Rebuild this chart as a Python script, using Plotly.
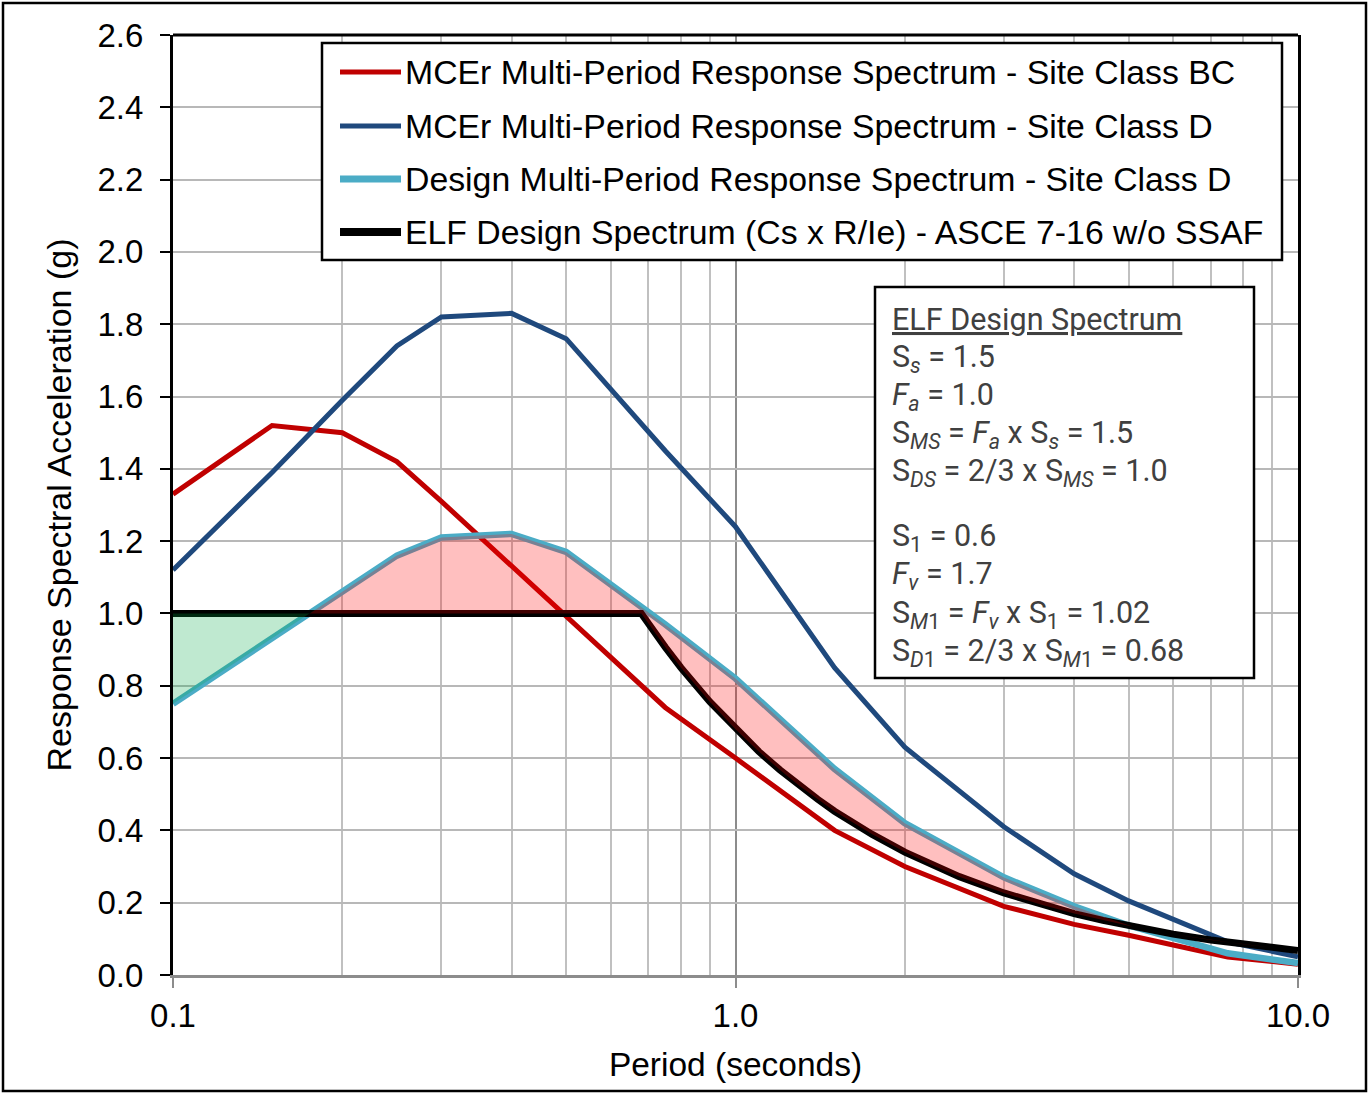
import numpy as np
import plotly.graph_objects as go

# ---------------- data ----------------
periods = [0.1, 0.15, 0.2, 0.25, 0.3, 0.4, 0.5, 0.75, 1.0, 1.5, 2.0, 3.0, 4.0, 5.0, 7.5, 10.0]
mcer_bc = [1.33, 1.52, 1.50, 1.42, 1.31, 1.13, 0.99, 0.74, 0.60, 0.40, 0.30, 0.19, 0.14, 0.11, 0.05, 0.03]
mcer_d = [1.12, 1.39, 1.59, 1.74, 1.82, 1.83, 1.76, 1.45, 1.24, 0.85, 0.63, 0.41, 0.28, 0.205, 0.092, 0.05]
design_d = [0.75, 0.93, 1.06, 1.16, 1.21, 1.22, 1.17, 0.97, 0.82, 0.57, 0.42, 0.27, 0.19, 0.137, 0.06, 0.033]

elf_periods = [0.1, 0.68, 0.75, 0.8, 0.9, 1.0, 1.1, 1.2, 1.3, 1.4, 1.5, 1.75, 2.0, 2.25, 2.5, 3.0, 3.5,
               4.0, 4.5, 5.0, 6.0, 7.0, 8.0, 9.0, 10.0]
elf_values = [1.0, 1.0, 0.907, 0.85, 0.756, 0.68, 0.618, 0.567, 0.523, 0.486, 0.453, 0.389, 0.34, 0.302,
              0.272, 0.227, 0.194, 0.17, 0.151, 0.136, 0.113, 0.097, 0.085, 0.076, 0.068]

series_names = [
    "MCEr Multi-Period Response Spectrum - Site Class BC",
    "MCEr Multi-Period Response Spectrum - Site Class D",
    "Design Multi-Period Response Spectrum - Site Class D",
    "ELF Design Spectrum (Cs x R/Ie) - ASCE 7-16 w/o SSAF",
]
series_colors = ["#C00000", "#1F497D", "#4BACC6", "#000000"]
series_widths = [5, 5, 6.5, 7]
legend_widths = [5, 5, 7, 8]

box_lines = [
    "<u>ELF Design Spectrum</u>",
    "S<sub><i>s</i></sub> = 1.5",
    "<i>F</i><sub><i>a</i></sub> = 1.0",
    "S<sub><i>MS</i></sub> = <i>F</i><sub><i>a</i></sub> x S<sub><i>s</i></sub> = 1.5",
    "S<sub><i>DS</i></sub> = 2/3 x S<sub><i>MS</i></sub> = 1.0",
    "S<sub>1</sub> = 0.6",
    "<i>F</i><sub><i>v</i></sub> = 1.7",
    "S<sub><i>M</i>1</sub> = <i>F</i><sub><i>v</i></sub> x S<sub>1</sub> = 1.02",
    "S<sub><i>D</i>1</sub> = 2/3 x S<sub><i>M</i>1</sub> = 0.68",
]

# ---------------- layout helpers ----------------
W, H = 1369, 1094
L, R, T, B = 173, 1298, 35, 975


def px(x):
    return (x - L) / (R - L)


def py(y):
    return (B - y) / (B - T)


fig = go.Figure()

all_y = [mcer_bc, mcer_d, design_d, elf_values]
all_x = [periods, periods, periods, elf_periods]
for name, xs, ys, c, w in zip(series_names, all_x, all_y, series_colors, series_widths):
    fig.add_trace(go.Scatter(x=xs, y=ys, mode="lines", name=name,
                             line=dict(color=c, width=w), showlegend=False))

# ---------------- fills between design and ELF ----------------
lx_d = np.log10(periods)
lx_e = np.log10(elf_periods)
grid = np.union1d(lx_d, lx_e)
d_g = np.interp(grid, lx_d, design_d)
e_g = np.interp(grid, lx_e, elf_values)
diff = d_g - e_g
extra = []
for i in range(len(grid) - 1):
    if diff[i] * diff[i + 1] < 0:
        t = diff[i] / (diff[i] - diff[i + 1])
        extra.append(grid[i] + t * (grid[i + 1] - grid[i]))
grid = np.union1d(grid, extra)
d_g = np.interp(grid, lx_d, design_d)
e_g = np.interp(grid, lx_e, elf_values)
gx = 10 ** grid

# pink: design above ELF
fig.add_trace(go.Scatter(x=gx, y=e_g, mode="lines", line=dict(width=0), showlegend=False, hoverinfo="skip"))
fig.add_trace(go.Scatter(x=gx, y=np.maximum(d_g, e_g), mode="lines", line=dict(width=0), fill="tonexty",
                         fillcolor="rgba(255,0,0,0.25)", showlegend=False, hoverinfo="skip"))
# green: ELF above design (short periods)
upper_g = np.where(grid < 0, np.maximum(d_g, e_g), d_g)
fig.add_trace(go.Scatter(x=gx, y=d_g, mode="lines", line=dict(width=0), showlegend=False, hoverinfo="skip"))
fig.add_trace(go.Scatter(x=gx, y=upper_g, mode="lines", line=dict(width=0), fill="tonexty",
                         fillcolor="rgba(0,167,67,0.25)", showlegend=False, hoverinfo="skip"))

shapes = []
annotations = []

# top border of plot area
shapes.append(dict(type="line", xref="paper", yref="paper", x0=0, x1=1, y0=1, y1=1,
                   line=dict(color="black", width=3)))
# outer frame
shapes.append(dict(type="rect", xref="paper", yref="paper", x0=px(3), x1=px(1366), y0=py(1091), y1=py(3),
                   line=dict(color="black", width=2.5), layer="above"))

# ---------------- manual legend ----------------
shapes.append(dict(type="rect", xref="paper", yref="paper", x0=px(322), x1=px(1282), y0=py(260), y1=py(43),
                   line=dict(color="black", width=2.5), fillcolor="white", layer="above"))
rows = [72, 126, 179, 232]
for name, c, w, ry in zip(series_names, series_colors, legend_widths, rows):
    shapes.append(dict(type="line", xref="paper", yref="paper", x0=px(340), x1=px(401), y0=py(ry), y1=py(ry),
                       line=dict(color=c, width=w), layer="above"))
    annotations.append(dict(xref="paper", yref="paper", x=px(403), y=py(ry), xanchor="left", yanchor="middle",
                            text=name, showarrow=False,
                            font=dict(family="Liberation Sans, Arial", size=33.8, color="black")))

# ---------------- text box ----------------
shapes.append(dict(type="rect", xref="paper", yref="paper", x0=px(875), x1=px(1254), y0=py(678), y1=py(287),
                   line=dict(color="black", width=2.5), fillcolor="white", layer="above"))
box_rows = [316, 355, 393, 432, 470, 534, 572, 611, 649]
for txt, ry in zip(box_lines, box_rows):
    annotations.append(dict(xref="paper", yref="paper", x=px(890), y=py(ry + 3), xanchor="left",
                            yanchor="middle", text=txt, showarrow=False,
                            font=dict(family="Roboto", size=30.5, color="#404040")))

minor_vals = [0.2, 0.3, 0.4, 0.5, 0.6, 0.7, 0.8, 0.9, 2, 3, 4, 5, 6, 7, 8, 9]

fig.update_layout(
    width=W, height=H,
    margin=dict(l=L, r=W - R, t=T, b=H - B),
    paper_bgcolor="white", plot_bgcolor="white",
    showlegend=False,
    font=dict(family="Liberation Sans, Arial", size=34, color="black"),
    xaxis=dict(
        type="log", range=[-1, 1],
        tickvals=[0.1, 1, 10], ticktext=["0.1", "1.0", "10.0"],
        showline=True, linecolor="#8c8c8c", linewidth=2.5,
        ticks="outside", ticklen=10, tickwidth=2, tickcolor="#8c8c8c",
        showgrid=True, gridcolor="#8c8c8c", gridwidth=2,
        minor=dict(tickvals=minor_vals, showgrid=True, gridcolor="#c0c0c0", gridwidth=2, ticks=""),
        tickfont=dict(size=33),
        title=dict(text="Period (seconds)", font=dict(size=33.5), standoff=20),
        zeroline=False,
    ),
    yaxis=dict(
        range=[0, 2.6], dtick=0.2, tickformat=".1f",
        showline=True, linecolor="black", linewidth=3, mirror=True,
        ticks="outside", ticklen=10, tickwidth=2, tickcolor="black",
        ticklabelstandoff=10,
        showgrid=True, gridcolor="#b8b8b8", gridwidth=2,
        tickfont=dict(size=33),
        title=dict(text="Response Spectral Acceleration (g)", font=dict(size=34), standoff=16),
        zeroline=False,
    ),
    shapes=shapes,
    annotations=annotations,
)

fig.write_html("out.html", post_script="document.body.style.margin='0';",
               config={"displayModeBar": False})
